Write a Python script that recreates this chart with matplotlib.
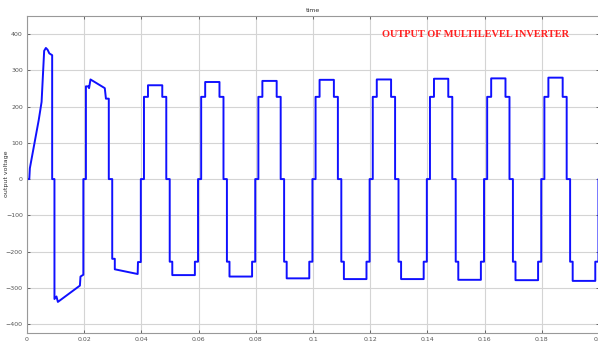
import numpy as np
import matplotlib
matplotlib.use('Agg')
from matplotlib import pyplot as plt

# first two cycles (start-up transient), read point by point
t_start = [0, 0.0008, 0.0010, 0.0025, 0.0041, 0.0051, 0.0060, 0.0066, 0.0072, 0.0078,
           0.0088, 0.0088, 0.0096, 0.0096, 0.0103, 0.0108, 0.0185, 0.0187, 0.0197, 0.0197,
           0.0206, 0.0206, 0.0214, 0.0217, 0.0222, 0.0272, 0.0276, 0.0286, 0.0286, 0.0298,
           0.0298, 0.0307, 0.0307, 0.0387, 0.0388, 0.0398, 0.0398]
v_start = [0, 0, 30, 94, 163, 213, 354, 362, 357, 347,
           342, 0, 0, -331, -324, -339, -294, -269, -264, 0,
           0, 256, 256, 251, 275, 251, 222, 222, 0, 0,
           -220, -220, -249, -262, -229, -229, 0]

# steady cycles: start time, positive top level, negative bottom level
cycle_start = [0.04, 0.06, 0.08, 0.10, 0.12, 0.14, 0.16, 0.18]
pos_peak = [259, 268, 271, 274, 275, 277, 278, 280]
neg_peak = [265, 269, 274, 276, 276, 278, 279, 281]
step_pos = 227
step_neg = 228

# switching instants within one 20 ms cycle
sw = [0.0009, 0.0023, 0.0073, 0.0087, 0.0099, 0.0108, 0.0187, 0.0198]

t = list(t_start)
v = list(v_start)
for c, p, n in zip(cycle_start, pos_peak, neg_peak):
    lv = [0, step_pos, p, step_pos, 0, -step_neg, -n, -step_neg, 0]
    for k, s in enumerate(sw):
        t += [c + s, c + s]
        v += [lv[k], lv[k + 1]]
t.append(0.2)
v.append(v[-1])

fig = plt.figure(figsize=(5.98, 3.45), dpi=100)
ax = fig.add_axes([27/598, 1 - 332.7/345, 572/598, 317/345])
ax.plot(t, v, color='#1010ff', lw=1.4)

ax.set_xlim(0, 0.2)
ax.set_ylim(-424, 451)
ax.set_xticks(np.arange(0, 0.201, 0.02))
ax.set_xticklabels(['0', '0.02', '0.04', '0.06', '0.08', '0.1', '0.12', '0.14', '0.16', '0.18', '0.2'])
ax.set_yticks(np.arange(-400, 401, 100))
ax.grid(True, color='#d4d4d4', lw=0.8)
ax.set_axisbelow(True)
ax.tick_params(direction='in', length=2, width=0.6, labelsize=4.5, colors='#555555',
               top=True, right=True, pad=3)
for s in ax.spines.values():
    s.set_color('#999999')
    s.set_linewidth(0.8)

ax.set_title('time', fontsize=4.5, color='#333333', pad=3)
ax.set_ylabel('output voltage', fontsize=4.5, color='#333333')
ax.yaxis.set_label_coords(-0.031, 0.5)

ax.text(0.124, 400, 'OUTPUT OF MULTILEVEL INVERTER', color='#ff2020', fontsize=7.5,
        fontweight='bold', family='Liberation Serif', va='center', ha='left')

fig.savefig('out.png', dpi=100)
